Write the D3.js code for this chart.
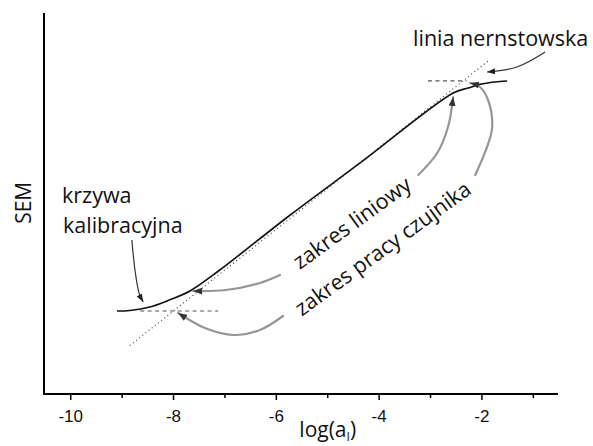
<!DOCTYPE html>
<html>
<head>
<meta charset="utf-8">
<script src="https://cdn.jsdelivr.net/npm/d3@7"></script>
<style>
  html, body { margin: 0; padding: 0; background: #fff; }
  svg { display: block; }
</style>
</head>
<body>
<svg id="chart" width="593" height="446"></svg>
<script>
// ---- data (x = log(a_I), y = SEM in mV, arbitrary zero) ----
const curveX = [-9.10, -8.85, -8.46, -8.13, -7.68, -7.10, -5.73, -4.37, -2.56, -2.27, -2.04, -1.75, -1.51];
const curveY = [119.8, 120.6, 125.6, 134.3, 148.7, 179.0, 258.4, 333.5, 434.5, 441.7, 447.0, 450.5, 451.9];

const nernstX = [-8.85, -1.84];
const nernstY = [70, 483];

const lowerDashX = [-8.65, -7.13];
const lowerDashY = [119.8, 119.8];
const upperDashX = [-3.05, -2.30];
const upperDashY = [451.9, 451.9];

const majorTicks = [-10, -8, -6, -4, -2];
const minorTicks = [-9, -7, -5, -3, -1];
const tickLabels = ["-10", "-8", "-6", "-4", "-2"];

// annotation arrows (data coordinates)
const arrowKrzywaX = [-8.81, -8.75, -8.67, -8.59];
const arrowKrzywaY = [222.3, 179.0, 145.6, 132.8];
const arrowLinLowX = [-5.93, -6.32, -6.98, -7.62];
const arrowLinLowY = [171.8, 160.2, 150.1, 148.7];
const arrowLinUpX = [-3.24, -2.87, -2.66, -2.56];
const arrowLinUpY = [316.1, 347.9, 385.4, 428.7];
const arrowPracaLowX = [-5.87, -6.32, -6.84, -7.39, -7.91];
const arrowPracaLowY = [112.6, 92.4, 85.2, 95.3, 116.9];
const arrowPracaUpX = [-2.13, -1.90, -1.80, -1.88, -2.04, -2.23];
const arrowPracaUpY = [316.1, 356.6, 385.4, 424.4, 443.2, 448.9];
const arrowNernstX = [-0.77, -1.32, -1.90];
const arrowNernstY = [493.7, 472.0, 464.8];

const labels = [
  { text: "krzywa", x: -10.17, y: 275.7 },
  { text: "kalibracyjna", x: -10.15, y: 232.4 },
  { text: "linia nernstowska", x: -3.34, y: 502.4 }
];
const rotLabels = [
  { text: "zakres liniowy", x: -4.53, y: 247.0 },
  { text: "zakres pracy czujnika", x: -3.93, y: 210.0 }
];

// ---- drawing ----
const svg = d3.select("#chart");
const x = d3.scaleLinear().domain([-10.52, -0.52]).range([44, 558]);
const y = d3.scaleLinear().domain([0, 550]).range([394, 13]);

const zip = (xs, ys) => xs.map((v, i) => [v, ys[i]]);

const defs = svg.append("defs");
function marker(id, color, len, wid) {
  defs.append("marker")
    .attr("id", id)
    .attr("markerUnits", "userSpaceOnUse")
    .attr("viewBox", `0 ${-wid} ${len} ${2 * wid}`)
    .attr("refX", len).attr("refY", 0)
    .attr("markerWidth", len).attr("markerHeight", 2 * wid)
    .attr("orient", "auto")
    .append("path")
    .attr("d", `M0,${-wid}L${len},0L0,${wid}Z`)
    .attr("fill", color);
}
marker("headDark", "#222", 8, 3);
marker("headGray", "#333", 9, 3.5);

const straight = d3.line().x(d => x(d[0])).y(d => y(d[1]));
const smooth = d3.line().x(d => x(d[0])).y(d => y(d[1])).curve(d3.curveCatmullRom.alpha(0.5));
const arc = d3.line().x(d => x(d[0])).y(d => y(d[1])).curve(d3.curveCatmullRom.alpha(0.5));

// Nernst dotted line
svg.append("path").attr("d", straight(zip(nernstX, nernstY)))
  .attr("fill", "none").attr("stroke", "#444").attr("stroke-width", 1.2)
  .attr("stroke-dasharray", "1,3");

// dashed horizontal limits
[[lowerDashX, lowerDashY], [upperDashX, upperDashY]].forEach(([xs, ys]) => {
  svg.append("path").attr("d", straight(zip(xs, ys)))
    .attr("fill", "none").attr("stroke", "#555").attr("stroke-width", 1.2)
    .attr("stroke-dasharray", "4,3.5");
});

// calibration curve
svg.append("path").attr("d", smooth(zip(curveX, curveY)))
  .attr("fill", "none").attr("stroke", "#111").attr("stroke-width", 1.6);

// gray annotation arrows
[[arrowLinLowX, arrowLinLowY], [arrowLinUpX, arrowLinUpY],
 [arrowPracaLowX, arrowPracaLowY], [arrowPracaUpX, arrowPracaUpY]].forEach(([xs, ys]) => {
  svg.append("path").attr("d", arc(zip(xs, ys)))
    .attr("fill", "none").attr("stroke", "#969696").attr("stroke-width", 2.2)
    .attr("stroke-linecap", "round")
    .attr("marker-end", "url(#headGray)");
});
// dark annotation arrows
[[arrowKrzywaX, arrowKrzywaY], [arrowNernstX, arrowNernstY]].forEach(([xs, ys]) => {
  svg.append("path").attr("d", arc(zip(xs, ys)))
    .attr("fill", "none").attr("stroke", "#333").attr("stroke-width", 1.2)
    .attr("marker-end", "url(#headDark)");
});

// axes
svg.append("line").attr("x1", x.range()[0]).attr("x2", x.range()[0])
  .attr("y1", y.range()[1]).attr("y2", y.range()[0] + 1)
  .attr("stroke", "#000").attr("stroke-width", 2);
svg.append("line").attr("x1", x.range()[0] - 1).attr("x2", x.range()[1])
  .attr("y1", y.range()[0]).attr("y2", y.range()[0])
  .attr("stroke", "#000").attr("stroke-width", 2);

const gx = svg.append("g").attr("transform", `translate(0,${y.range()[0]})`);
gx.selectAll(".maj").data(majorTicks).enter().append("line")
  .attr("x1", d => x(d)).attr("x2", d => x(d)).attr("y1", 0).attr("y2", 6)
  .attr("stroke", "#000").attr("stroke-width", 1.5);
gx.selectAll(".min").data(minorTicks).enter().append("line")
  .attr("x1", d => x(d)).attr("x2", d => x(d)).attr("y1", 0).attr("y2", 4)
  .attr("stroke", "#000").attr("stroke-width", 1.5);
gx.selectAll(".lbl").data(majorTicks).enter().append("text")
  .attr("x", d => x(d)).attr("y", 28)
  .attr("text-anchor", "middle")
  .attr("font-family", "'Liberation Sans', Arial, sans-serif")
  .attr("font-size", 17).attr("fill", "#111")
  .text((d, i) => tickLabels[i]);

// axis titles
const xt = svg.append("text").attr("x", x(-5)).attr("y", 437)
  .attr("text-anchor", "middle")
  .attr("font-family", "'Open Sans', sans-serif").attr("font-size", 21).attr("fill", "#111");
xt.append("tspan").text("log(a");
xt.append("tspan").attr("font-size", 12).attr("dy", 4).text("I");
xt.append("tspan").attr("dy", -4).text(")");

svg.append("text")
  .attr("transform", `translate(31,${y(276)}) rotate(-90)`)
  .attr("text-anchor", "middle")
  .attr("font-family", "'Open Sans', sans-serif").attr("font-size", 21).attr("fill", "#111")
  .text("SEM");

// annotation texts
svg.selectAll(".lab").data(labels).enter().append("text")
  .attr("x", d => x(d.x)).attr("y", d => y(d.y))
  .attr("font-family", "'Open Sans', sans-serif").attr("font-size", 21.5).attr("fill", "#111")
  .text(d => d.text);
svg.selectAll(".rlab").data(rotLabels).enter().append("text")
  .attr("transform", d => `translate(${x(d.x)},${y(d.y)}) rotate(-36)`)
  .attr("text-anchor", "middle").attr("dy", "0.35em")
  .attr("font-family", "'Open Sans', sans-serif").attr("font-size", 21.5).attr("fill", "#111")
  .text(d => d.text);
</script>
</body>
</html>
